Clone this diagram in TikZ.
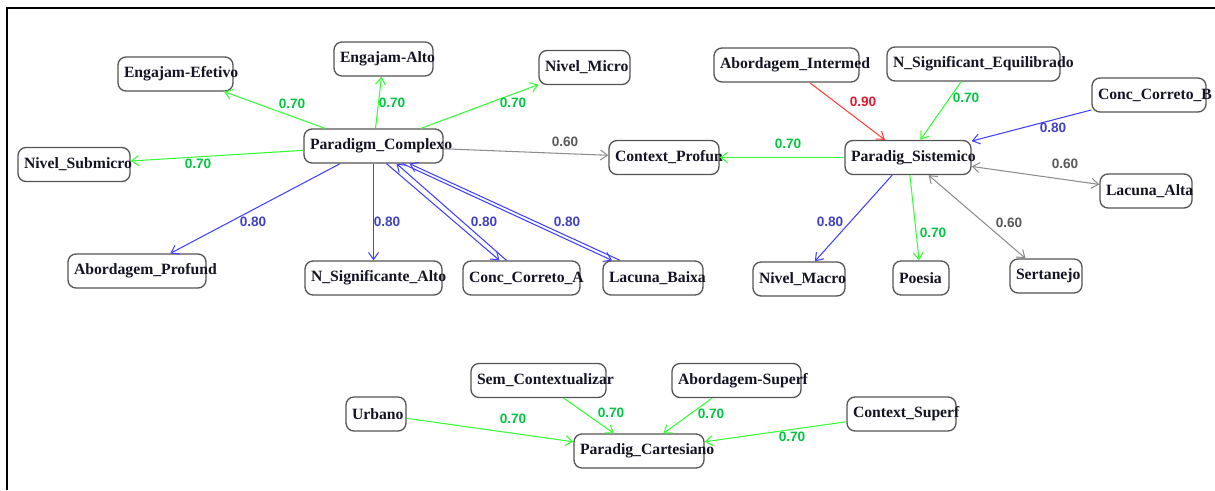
\documentclass[tikz,border=0pt]{standalone}
\usepackage{fontspec}
\setmainfont{Liberation Serif}
\newfontfamily\lblfont{Liberation Sans}
\usetikzlibrary{arrows.meta}
\definecolor{ntext}{rgb}{0.08,0.08,0.14}
\definecolor{nborder}{rgb}{0.33,0.33,0.33}
\definecolor{lgreen}{rgb}{0.2,1,0.2}
\definecolor{lblue}{rgb}{0.25,0.25,1}
\definecolor{lred}{rgb}{1,0.25,0.25}
\definecolor{lgray}{rgb}{0.55,0.55,0.55}
\definecolor{tgreen}{rgb}{0.0,0.78,0.25}
\definecolor{tblue}{rgb}{0.25,0.25,0.78}
\definecolor{tred}{rgb}{0.88,0.1,0.18}
\definecolor{tgray}{rgb}{0.35,0.35,0.35}
\tikzset{
  nbox/.style={draw=nborder, line width=1.3pt, rounded corners=8pt, fill=white,
    minimum height=34pt, inner xsep=6pt, inner ysep=0pt, text=ntext,
    font=\bfseries\fontsize{15.7}{18}\selectfont},
  edge/.style={line width=1.05pt, -{Straight Barb[length=7pt,width=10pt]}},
  bedge/.style={line width=1.05pt, {Straight Barb[length=7pt,width=10pt]}-{Straight Barb[length=7pt,width=10pt]}},
  elbl/.style={font=\lblfont\bfseries\fontsize{13.6}{15}\selectfont, inner sep=0pt},
  eg/.style={edge, draw=lgreen}, eb/.style={edge, draw=lblue},
  er/.style={edge, draw=lred}, ey/.style={edge, draw=lgray},
  tg/.style={elbl, text=tgreen}, tb/.style={elbl, text=tblue},
  tr/.style={elbl, text=tred}, ty/.style={elbl, text=tgray},
}
\newcommand\bx[5]{\node[nbox, minimum width=#4pt] (#1) at (#2,#3) {\makebox[\dimexpr#4pt-12pt\relax][l]{#5}};}
\begin{document}
\begin{tikzpicture}[x=1pt,y=-1pt]
\useasboundingbox (0,0) rectangle (1215,490);
\draw[line width=1.8pt, black] (7,490) -- (7,8) -- (1215,8);
% nodes
\bx{EE}{175.5}{74}{115}{Engajam-Efetivo}
\bx{EA}{383.5}{59}{99}{Engajam-Alto}
\bx{PC}{373.5}{146}{139}{Paradigm\_Complexo}
\bx{NS}{74}{164.5}{112}{Nivel\_Submicro}
\bx{NM}{584.5}{67.5}{91}{Nivel\_Micro}
\bx{AI}{786.5}{65}{145}{Abordagem\_Intermed}
\bx{CP}{664}{157.5}{110}{Context\_Profun}
\bx{NE}{973.5}{64}{173}{N\_Significant\_Equilibrado}
\bx{CB}{1149}{95}{114}{Conc\_Correto\_B}
\bx{PS}{908}{157.5}{126}{Paradig\_Sistemico}
\bx{LA}{1146}{191}{92}{Lacuna\_Alta}
\bx{AP}{137}{271}{138}{Abordagem\_Profund}
\bx{NA}{373.5}{278}{137}{N\_Significante\_Alto}
\bx{CA}{521.5}{278}{117}{Conc\_Correto\_A}
\bx{LB}{653}{278}{100}{Lacuna\_Baixa}
\bx{NMa}{799}{279}{92}{Nivel\_Macro}
\bx{Po}{921}{278}{56}{Poesia}
\bx{Se}{1046}{276}{72}{Sertanejo}
\bx{Ur}{376}{414}{60}{Urbano}
\bx{SC}{538.5}{380.5}{135}{Sem\_Contextualizar}
\bx{PCa}{639}{451}{130}{Paradig\_Cartesiano}
\bx{AS}{736.5}{380.5}{129}{Abordagem-Superf}
\bx{CS}{901.5}{414}{109}{Context\_Superf}
% edges
\draw[eg] (PC) -- (EE);
\draw[eg] (PC) -- (EA);
\draw[eg] (PC) -- (NM);
\draw[eg] (PC) -- (NS);
\draw[ey] (PC) -- (CP);
\draw[eb] (PC) -- (AP);
\draw[eb] (PC) -- (NA);
\draw[eb] ([xshift=13pt]PC.south) -- ([xshift=-22pt]CA.north);
\draw[eb] ([xshift=-15pt]CA.north) -- ([xshift=23pt]PC.south);
\draw[eb] ([xshift=29pt]PC.south) -- ([xshift=-41pt]LB.north);
\draw[eb] ([xshift=-33pt]LB.north) -- ([xshift=36pt]PC.south);
\draw[eg] (PS) -- (CP);
\draw[er] (AI) -- (PS);
\draw[eg] (NE) -- (PS);
\draw[eb] (CB) -- (PS);
\draw[bedge, draw=lgray] (PS) -- (LA);
\draw[eb] (PS) -- (NMa);
\draw[eg] (PS) -- (Po);
\draw[bedge, draw=lgray] (PS) -- (Se);
\draw[eg] (Ur) -- (PCa);
\draw[eg] (SC) -- (PCa);
\draw[eg] (AS) -- (PCa);
\draw[eg] (CS) -- (PCa);
% labels
\node[tg] (l1) at (292,104) {0.70};
\node[tg] (l2) at (392,103) {0.70};
\node[tg] (l3) at (513,103) {0.70};
\node[tg] (l4) at (198,164) {0.70};
\node[ty] (l5) at (565,142) {0.60};
\node[tb] (l6) at (253,222) {0.80};
\node[tb] (l7) at (387,222) {0.80};
\node[tb] (l8) at (484,222) {0.80};
\node[tb] (l9) at (567,222) {0.80};
\node[tg] (l10) at (788,144) {0.70};
\node[tr] (l11) at (863,102) {0.90};
\node[tg] (l12) at (966,98) {0.70};
\node[tb] (l13) at (1053,128) {0.80};
\node[ty] (l14) at (1065,164) {0.60};
\node[tb] (l15) at (830,222) {0.80};
\node[tg] (l16) at (933,233) {0.70};
\node[ty] (l17) at (1009,223) {0.60};
\node[tg] (l18) at (513,419) {0.70};
\node[tg] (l19) at (611,413) {0.70};
\node[tg] (l20) at (711,414) {0.70};
\node[tg] (l21) at (792,437) {0.70};
\end{tikzpicture}
\end{document}
